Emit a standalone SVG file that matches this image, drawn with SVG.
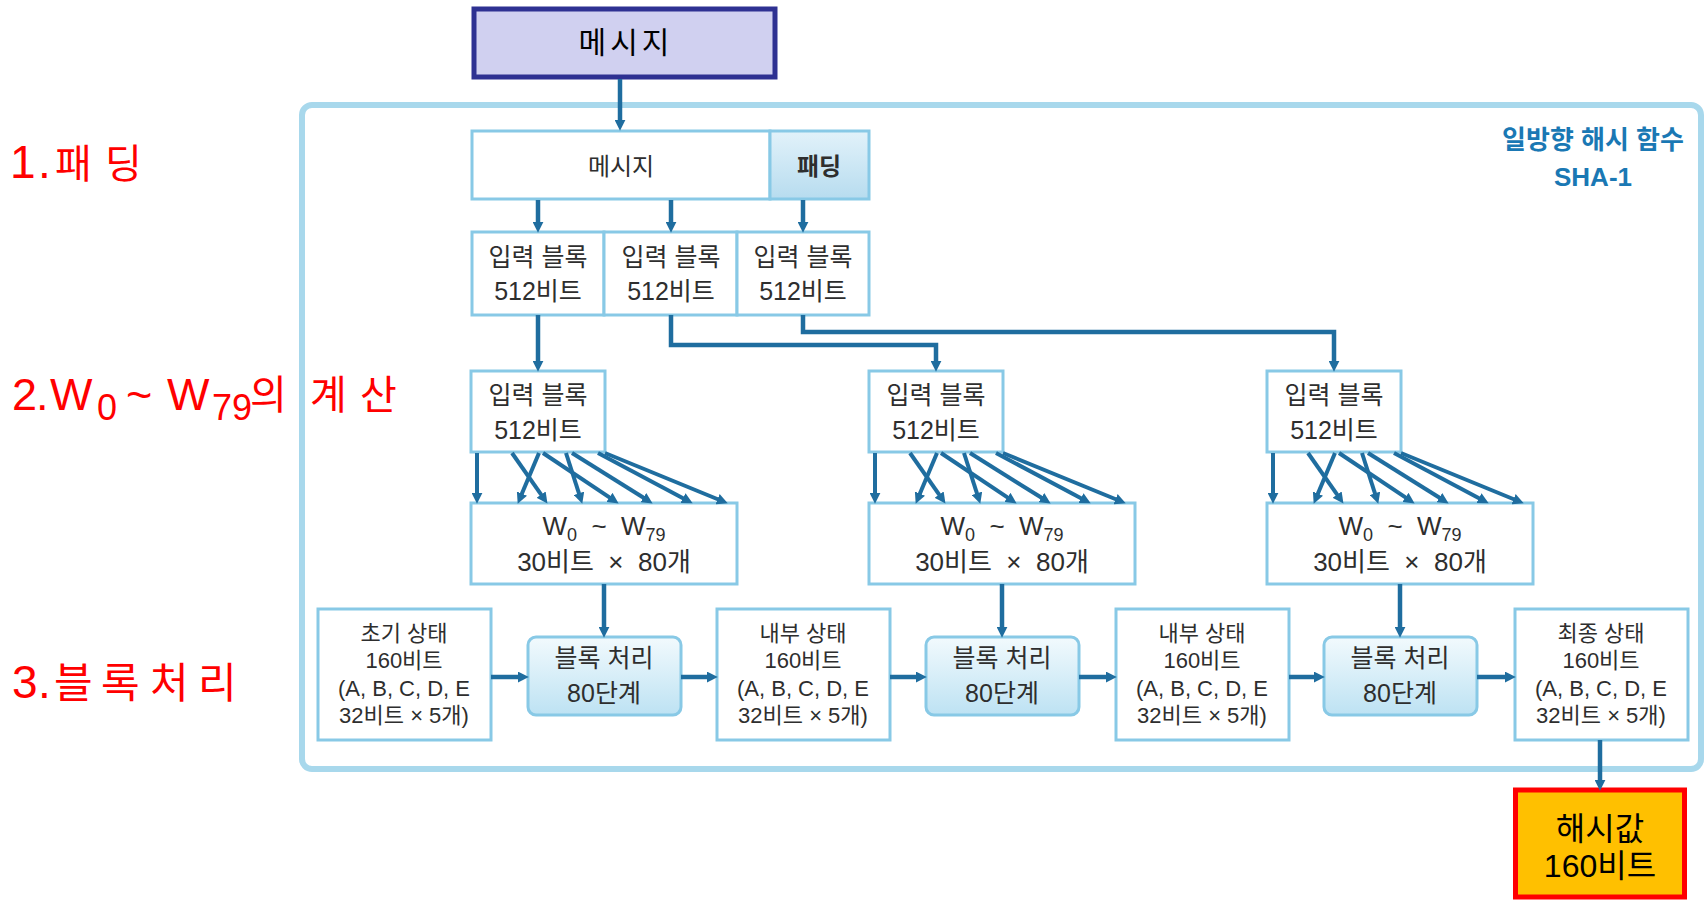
<svg xmlns="http://www.w3.org/2000/svg" width="1707" height="901" viewBox="0 0 1707 901">
<defs>
<style>
.box{fill:#ffffff;stroke:#88c9e6;stroke-width:3}
.t{font-family:"Liberation Sans","Noto Sans CJK KR",sans-serif;fill:#2e2e2e;text-anchor:middle}
.conn{stroke:#1f6d9f;stroke-width:4.5;fill:none;marker-end:url(#ah)}
.fan{stroke:#1f6d9f;stroke-width:4;fill:none;marker-end:url(#ah2)}
.red{font-family:"Liberation Sans","Noto Sans CJK KR",sans-serif;fill:#ff0000}
</style>
<marker id="ah" viewBox="0 0 10 10" refX="2" refY="5" markerWidth="11" markerHeight="11" markerUnits="userSpaceOnUse" orient="auto"><path d="M0,0 L10,5 L0,10 z" fill="#1f6d9f"/></marker>
<marker id="ah2" viewBox="0 0 10 10" refX="2" refY="5" markerWidth="11" markerHeight="11" markerUnits="userSpaceOnUse" orient="auto"><path d="M0,0 L10,5 L0,10 z" fill="#1f6d9f"/></marker>
<linearGradient id="procGrad" x1="0" y1="0" x2="0" y2="1"><stop offset="0" stop-color="#f2fafd"/><stop offset="1" stop-color="#bde2f3"/></linearGradient>
<linearGradient id="padGrad" x1="0" y1="0" x2="0" y2="1"><stop offset="0" stop-color="#e2f2fa"/><stop offset="1" stop-color="#b7dcef"/></linearGradient>
</defs>

<g id="sha1-container">
<rect x="302" y="105" width="1399" height="664" rx="10" fill="#ffffff" stroke="#a8d8ec" stroke-width="6"/>
<text x="1593" y="149" font-family="Liberation Sans,Noto Sans CJK KR,sans-serif" font-weight="bold" font-size="26" fill="#1a78b4" text-anchor="middle">일방향 해시 함수</text>
<text x="1593" y="186" font-family="Liberation Sans,Noto Sans CJK KR,sans-serif" font-weight="bold" font-size="26" fill="#1a78b4" text-anchor="middle">SHA-1</text>
</g>

<g id="message-top">
<rect x="474" y="9" width="301" height="68" fill="#d0d0f0" stroke="#2e3192" stroke-width="5"/>
<text x="626" y="53" font-family="Liberation Sans,Noto Sans CJK KR,sans-serif" font-size="30" letter-spacing="4" fill="#000000" text-anchor="middle">메시지</text>
</g>

<g id="message-padded">
<rect class="box" x="472" y="131" width="298" height="68"/>
<text class="t" x="621" y="175" font-size="24">메시지</text>
<rect x="770" y="131" width="99" height="68" fill="url(#padGrad)" stroke="#88c9e6" stroke-width="3"/>
<text class="t" x="819" y="175" font-size="24" font-weight="bold">패딩</text>
</g>

<g id="input-block-1">
<rect class="box" x="472" y="232" width="132" height="83"/>
<text class="t" x="538" y="266" font-size="25">입력 블록</text>
<text class="t" x="538" y="300" font-size="25">512비트</text>
</g>
<g id="input-block-2">
<rect class="box" x="604" y="232" width="133" height="83"/>
<text class="t" x="671" y="266" font-size="25">입력 블록</text>
<text class="t" x="671" y="300" font-size="25">512비트</text>
</g>
<g id="input-block-3">
<rect class="box" x="737" y="232" width="132" height="83"/>
<text class="t" x="803" y="266" font-size="25">입력 블록</text>
<text class="t" x="803" y="300" font-size="25">512비트</text>
</g>

<g id="block-a">
<rect class="box" x="471" y="371" width="134" height="81"/>
<text class="t" x="538" y="404" font-size="25">입력 블록</text>
<text class="t" x="538" y="439" font-size="25">512비트</text>
</g>
<g id="block-b">
<rect class="box" x="869" y="371" width="134" height="81"/>
<text class="t" x="936" y="404" font-size="25">입력 블록</text>
<text class="t" x="936" y="439" font-size="25">512비트</text>
</g>
<g id="block-c">
<rect class="box" x="1267" y="371" width="134" height="81"/>
<text class="t" x="1334" y="404" font-size="25">입력 블록</text>
<text class="t" x="1334" y="439" font-size="25">512비트</text>
</g>

<g id="w-a">
<rect class="box" x="471" y="503" width="266" height="81"/>
<text class="t" x="604" y="535" font-size="26" xml:space="preserve">W<tspan font-size="18" dy="6">0</tspan><tspan dy="-6">  ~  W</tspan><tspan font-size="18" dy="6">79</tspan></text>
<text class="t" x="604" y="571" font-size="26" xml:space="preserve">30비트  ×  80개</text>
</g>
<g id="w-b">
<rect class="box" x="869" y="503" width="266" height="81"/>
<text class="t" x="1002" y="535" font-size="26" xml:space="preserve">W<tspan font-size="18" dy="6">0</tspan><tspan dy="-6">  ~  W</tspan><tspan font-size="18" dy="6">79</tspan></text>
<text class="t" x="1002" y="571" font-size="26" xml:space="preserve">30비트  ×  80개</text>
</g>
<g id="w-c">
<rect class="box" x="1267" y="503" width="266" height="81"/>
<text class="t" x="1400" y="535" font-size="26" xml:space="preserve">W<tspan font-size="18" dy="6">0</tspan><tspan dy="-6">  ~  W</tspan><tspan font-size="18" dy="6">79</tspan></text>
<text class="t" x="1400" y="571" font-size="26" xml:space="preserve">30비트  ×  80개</text>
</g>

<g id="state-init">
<rect class="box" x="318" y="609" width="173" height="131"/>
<text class="t" x="404" y="641" font-size="22">초기 상태</text>
<text class="t" x="404" y="668" font-size="22">160비트</text>
<text class="t" x="404" y="696" font-size="22">(A, B, C, D, E</text>
<text class="t" x="404" y="723" font-size="22">32비트 × 5개)</text>
</g>
<g id="state-inner-1">
<rect class="box" x="717" y="609" width="173" height="131"/>
<text class="t" x="803" y="641" font-size="22">내부 상태</text>
<text class="t" x="803" y="668" font-size="22">160비트</text>
<text class="t" x="803" y="696" font-size="22">(A, B, C, D, E</text>
<text class="t" x="803" y="723" font-size="22">32비트 × 5개)</text>
</g>
<g id="state-inner-2">
<rect class="box" x="1116" y="609" width="173" height="131"/>
<text class="t" x="1202" y="641" font-size="22">내부 상태</text>
<text class="t" x="1202" y="668" font-size="22">160비트</text>
<text class="t" x="1202" y="696" font-size="22">(A, B, C, D, E</text>
<text class="t" x="1202" y="723" font-size="22">32비트 × 5개)</text>
</g>
<g id="state-final">
<rect class="box" x="1515" y="609" width="173" height="131"/>
<text class="t" x="1601" y="641" font-size="22">최종 상태</text>
<text class="t" x="1601" y="668" font-size="22">160비트</text>
<text class="t" x="1601" y="696" font-size="22">(A, B, C, D, E</text>
<text class="t" x="1601" y="723" font-size="22">32비트 × 5개)</text>
</g>

<g id="proc-1">
<rect x="528" y="637" width="153" height="78" rx="8" fill="url(#procGrad)" stroke="#88c9e6" stroke-width="3"/>
<text class="t" x="604" y="667" font-size="25">블록 처리</text>
<text class="t" x="604" y="702" font-size="25">80단계</text>
</g>
<g id="proc-2">
<rect x="926" y="637" width="153" height="78" rx="8" fill="url(#procGrad)" stroke="#88c9e6" stroke-width="3"/>
<text class="t" x="1002" y="667" font-size="25">블록 처리</text>
<text class="t" x="1002" y="702" font-size="25">80단계</text>
</g>
<g id="proc-3">
<rect x="1324" y="637" width="153" height="78" rx="8" fill="url(#procGrad)" stroke="#88c9e6" stroke-width="3"/>
<text class="t" x="1400" y="667" font-size="25">블록 처리</text>
<text class="t" x="1400" y="702" font-size="25">80단계</text>
</g>

<g id="hash-value">
<rect x="1515.5" y="790" width="169" height="107" fill="#ffc000" stroke="#ff0000" stroke-width="5"/>
<text x="1600" y="840" font-family="Liberation Sans,Noto Sans CJK KR,sans-serif" font-size="32" fill="#000000" text-anchor="middle">해시값</text>
<text x="1600" y="877" font-family="Liberation Sans,Noto Sans CJK KR,sans-serif" font-size="32" fill="#000000" text-anchor="middle">160비트</text>
</g>

<g id="connectors">
<path class="conn" d="M620,79 V122"/>
<path class="conn" d="M538,200 V224"/>
<path class="conn" d="M671,200 V224"/>
<path class="conn" d="M803,200 V224"/>
<path class="conn" d="M538,315 V363"/>
<path class="conn" d="M671,315 V345 H936 V363"/>
<path class="conn" d="M803,315 V332 H1334 V363"/>
<path class="conn" d="M604,584 V629"/>
<path class="conn" d="M1002,584 V629"/>
<path class="conn" d="M1400,584 V629"/>
<path class="conn" d="M491,677 H520"/>
<path class="conn" d="M681,677 H709"/>
<path class="conn" d="M890,677 H918"/>
<path class="conn" d="M1079,677 H1108"/>
<path class="conn" d="M1289,677 H1316"/>
<path class="conn" d="M1477,677 H1507"/>
<path class="conn" d="M1600,740 V782"/>
<g id="fan-a" transform="translate(471,0)">
<path class="fan" d="M6,453 L6,495"/>
<path class="fan" d="M41,453 L71.4,496.4"/>
<path class="fan" d="M68,453 L50.1,495.6"/>
<path class="fan" d="M72,453 L140.3,498.6"/>
<path class="fan" d="M95,453 L108.6,495.4"/>
<path class="fan" d="M101,453 L174.2,498.8"/>
<path class="fan" d="M127,453 L213.9,499.2"/>
<path class="fan" d="M134,453 L248.6,500"/>
</g>
<g id="fan-b" transform="translate(869,0)">
<path class="fan" d="M6,453 L6,495"/>
<path class="fan" d="M41,453 L71.4,496.4"/>
<path class="fan" d="M68,453 L50.1,495.6"/>
<path class="fan" d="M72,453 L140.3,498.6"/>
<path class="fan" d="M95,453 L108.6,495.4"/>
<path class="fan" d="M101,453 L174.2,498.8"/>
<path class="fan" d="M127,453 L213.9,499.2"/>
<path class="fan" d="M134,453 L248.6,500"/>
</g>
<g id="fan-c" transform="translate(1267,0)">
<path class="fan" d="M6,453 L6,495"/>
<path class="fan" d="M41,453 L71.4,496.4"/>
<path class="fan" d="M68,453 L50.1,495.6"/>
<path class="fan" d="M72,453 L140.3,498.6"/>
<path class="fan" d="M95,453 L108.6,495.4"/>
<path class="fan" d="M101,453 L174.2,498.8"/>
<path class="fan" d="M127,453 L213.9,499.2"/>
<path class="fan" d="M134,453 L248.6,500"/>
</g>
</g>

<g id="step-labels">
<text class="red" y="178" font-size="46"><tspan x="10">1</tspan><tspan x="38">.</tspan><tspan x="55" font-size="40">패</tspan><tspan x="105" font-size="40">딩</tspan></text>
<text class="red" y="410" font-size="45"><tspan x="12">2</tspan><tspan x="36">.</tspan><tspan x="50">W</tspan><tspan x="97" y="420" font-size="36">0</tspan><tspan x="126" y="410">~</tspan><tspan x="167">W</tspan><tspan x="212" y="420" font-size="36">79</tspan><tspan x="250" y="409" font-size="40">의</tspan><tspan x="310" font-size="40">계</tspan><tspan x="360" font-size="40">산</tspan></text>
<text class="red" y="698" font-size="46"><tspan x="12">3</tspan><tspan x="38">.</tspan><tspan x="54" font-size="42">블</tspan><tspan x="101" font-size="42">록</tspan><tspan x="150" font-size="42">처</tspan><tspan x="198" font-size="42">리</tspan></text>
</g>
</svg>
